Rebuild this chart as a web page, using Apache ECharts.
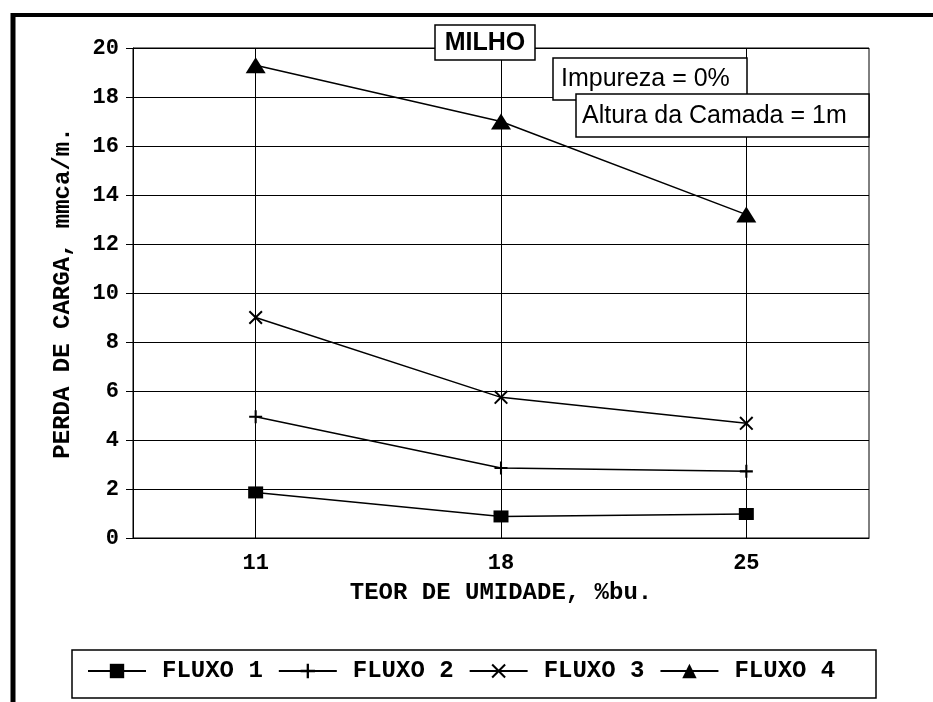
<!DOCTYPE html>
<html>
<head>
<meta charset="utf-8">
<script src="https://cdn.jsdelivr.net/npm/echarts@6/dist/echarts.min.js"></script>
<style>
  html, body { margin: 0; padding: 0; background: #fff; }
  #main { width: 933px; height: 702px; }
</style>
</head>
<body>
<div id="main"></div>
<script>
// dados (milho, impureza 0%, camada 1 m)
const umidade = ['11', '18', '25'];
const fluxo1 = [1.86, 0.88, 0.98];
const fluxo2 = [4.95, 2.86, 2.72];
const fluxo3 = [9.0, 5.74, 4.68];
const fluxo4 = [19.3, 17.0, 13.2];
const nomes = ['FLUXO 1', 'FLUXO 2', 'FLUXO 3', 'FLUXO 4'];

// símbolos: quadrado, mais, xis, triângulo
const mais = 'path://M4.2,0H5.8V4.2H10V5.8H5.8V10H4.2V5.8H0V4.2H4.2Z';
const xis = 'path://M0,1L1,0L5,4L9,0L10,1L6,5L10,9L9,10L5,6L1,10L0,9L4,5Z';
const simbolos = ['rect', mais, xis, 'triangle'];
const tamanhos = [[15, 12], 13, 14, [20, 16]];

const mono = '"Liberation Mono", "DejaVu Sans Mono", monospace';
const sans = '"Liberation Sans", Arial, sans-serif';

const myChart = echarts.init(document.getElementById('main'));

const valores = [fluxo1, fluxo2, fluxo3, fluxo4];

const option = {
    backgroundColor: '#fff',
    animation: false,
    grid: {
        left: 133, right: 64, top: 48, bottom: 164,
        show: true, borderColor: '#000', borderWidth: 1
    },
    legend: {
        data: nomes,
        left: 87,
        top: 659,
        padding: 0,
        itemWidth: 58,
        itemHeight: 18,
        itemGap: 15,
        textStyle: {
            fontFamily: mono, fontWeight: 'bold', fontSize: 24, color: '#000',
            padding: [0, 0, 0, 11]
        }
    },
    xAxis: {
        type: 'category',
        data: umidade,
        boundaryGap: true,
        name: 'TEOR DE UMIDADE, %bu.',
        nameLocation: 'middle',
        nameGap: 43,
        nameTextStyle: { fontFamily: mono, fontWeight: 'bold', fontSize: 24, color: '#000' },
        axisLine: { lineStyle: { color: '#000', width: 1 } },
        axisTick: { alignWithLabel: true, length: 7, lineStyle: { color: '#000' } },
        axisLabel: { fontFamily: mono, fontWeight: 'bold', fontSize: 22, color: '#000', margin: 14 },
        splitLine: { show: true, alignWithLabel: true, lineStyle: { color: '#000', width: 1 } }
    },
    yAxis: {
        type: 'value',
        min: 0, max: 20, interval: 2,
        name: 'PERDA DE CARGA, mmca/m.',
        nameLocation: 'middle',
        nameGap: 58,
        nameTextStyle: { fontFamily: mono, fontWeight: 'bold', fontSize: 24, color: '#000' },
        axisLine: { show: true, lineStyle: { color: '#000', width: 1 } },
        axisTick: { show: true, length: 7, lineStyle: { color: '#000' } },
        axisLabel: { fontFamily: mono, fontWeight: 'bold', fontSize: 22, color: '#000', margin: 14 },
        splitLine: { show: true, lineStyle: { color: '#000', width: 1 } }
    },
    series: nomes.map((nome, i) => ({
        name: nome,
        type: 'line',
        data: valores[i],
        symbol: simbolos[i],
        symbolSize: tamanhos[i],
        showAllSymbol: true,
        lineStyle: { color: '#000', width: 1.5 },
        itemStyle: { color: '#000', borderWidth: 0 },
        z: 3
    })),
    graphic: [
        // moldura da figura
        { type: 'line', shape: { x1: 11, y1: 15, x2: 933, y2: 15 }, style: { stroke: '#000', lineWidth: 4 }, z: 50 },
        { type: 'line', shape: { x1: 13, y1: 13, x2: 13, y2: 702 }, style: { stroke: '#000', lineWidth: 5 }, z: 50 },
        // caixa da legenda
        { type: 'rect', shape: { x: 72, y: 650, width: 804, height: 48 }, style: { fill: 'none', stroke: '#000', lineWidth: 1.5 }, z: 50 },
        // caixas de texto
        { type: 'rect', shape: { x: 435, y: 25, width: 100, height: 35 }, style: { fill: '#fff', stroke: '#000', lineWidth: 1.5 }, z: 60 },
        { type: 'text', x: 485, y: 43, style: { text: 'MILHO', fontFamily: sans, fontWeight: 'bold', fontSize: 25, fill: '#000', align: 'center', verticalAlign: 'middle' }, z: 61 },
        { type: 'rect', shape: { x: 553, y: 58, width: 194, height: 42 }, style: { fill: '#fff', stroke: '#000', lineWidth: 1.5 }, z: 62 },
        { type: 'text', x: 561, y: 79, style: { text: 'Impureza = 0%', fontFamily: sans, fontSize: 25, fill: '#000', align: 'left', verticalAlign: 'middle' }, z: 63 },
        { type: 'rect', shape: { x: 576, y: 94, width: 293, height: 43 }, style: { fill: '#fff', stroke: '#000', lineWidth: 1.5 }, z: 64 },
        { type: 'text', x: 582, y: 116, style: { text: 'Altura da Camada = 1m', fontFamily: sans, fontSize: 25, fill: '#000', align: 'left', verticalAlign: 'middle' }, z: 65 }
    ]
};

myChart.setOption(option);
</script>
</body>
</html>
